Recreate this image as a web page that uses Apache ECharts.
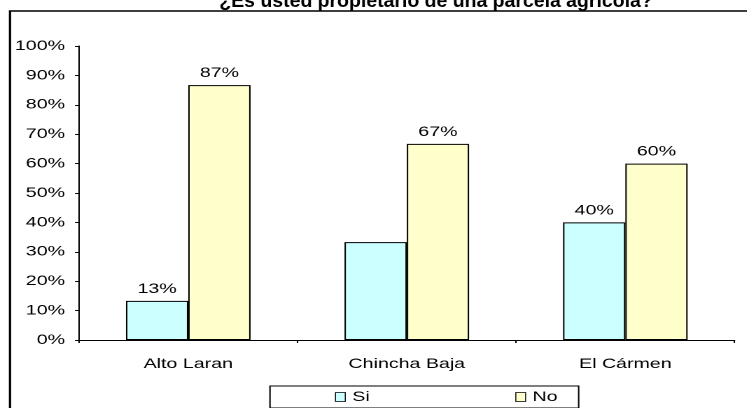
<!DOCTYPE html>
<html>
<head>
<meta charset="utf-8">
<script src="https://cdn.jsdelivr.net/npm/echarts@6/dist/echarts.min.js"></script>
<style>
html,body{margin:0;padding:0;background:#fff;overflow:hidden;}
#wrap{width:747px;height:408px;position:relative;overflow:hidden;}
#chart{position:absolute;left:0;top:0;height:408px;transform-origin:0 0;}
</style>
</head>
<body>
<div id="wrap"><div id="chart"></div></div>
<script>
const titleText = '¿Es usted propietario de una parcela agrícola?';
const categories = ['Alto Laran', 'Chincha Baja', 'El Cármen'];
const seriesNames = ['Si', 'No'];
const siValues = [13.3, 33.3, 40.0];
const noValues = [86.7, 66.7, 60.0];
const siLabels = ['13%', '', '40%'];
const noLabels = ['87%', '67%', '60%'];
const yTicks = [0, 10, 20, 30, 40, 50, 60, 70, 80, 90, 100];

// horizontal stretch of the reference rendering
const SX = 1.4;
const W = 747, H = 408;
const cw = W / SX;
const X = v => v / SX;   // page x -> chart x

const el = document.getElementById('chart');
el.style.width = cw + 'px';
el.style.transform = 'scaleX(' + SX + ')';

const FONT = '"Liberation Sans", Arial, sans-serif';
const FS = 14;
const chart = echarts.init(el, null, {renderer: 'canvas', devicePixelRatio: 2});

function mkLabel(texts) {
  return {
    show: true,
    position: 'top',
    distance: 5,
    fontFamily: FONT,
    fontSize: FS,
    color: '#000',
    formatter: p => texts[p.dataIndex]
  };
}

chart.setOption({
  animation: false,
  backgroundColor: '#fff',
  graphic: [
    {
      type: 'rect',
      shape: {x: X(10), y: 11, width: cw, height: 420},
      style: {fill: null, stroke: '#000', lineWidth: 1.6},
      silent: true,
      z: 0
    },
    {
      type: 'text',
      x: X(436),
      y: 2,
      scaleX: 0.731,
      silent: true,
      style: {
        text: titleText,
        font: 'bold 19px ' + FONT,
        fill: '#000',
        textAlign: 'center',
        textVerticalAlign: 'middle',
        verticalAlign: 'middle'
      }
    }
  ],
  legend: {
    data: seriesNames,
    left: X(270),
    top: 386,
    padding: [4, 15, 4, X(65)],
    itemGap: 104,
    itemWidth: 7,
    itemHeight: 9,
    icon: 'rect',
    itemStyle: {borderWidth: 0.7, borderColor: '#000'},
    borderColor: '#000',
    borderWidth: 1,
    backgroundColor: '#fff',
    textStyle: {fontFamily: FONT, fontSize: FS, color: '#000'}
  },
  grid: {left: X(79), right: X(747 - 734), top: 46, bottom: 68, containLabel: false},
  xAxis: {
    type: 'category',
    data: categories,
    boundaryGap: true,
    axisLine: {show: true, lineStyle: {color: '#000', width: 1}},
    axisTick: {show: true, interval: 0, length: 3, lineStyle: {color: '#000'}},
    axisLabel: {fontFamily: FONT, fontSize: FS, color: '#000', margin: 17, interval: 0},
    splitLine: {show: false}
  },
  yAxis: {
    type: 'value',
    min: yTicks[0],
    max: yTicks[yTicks.length - 1],
    interval: yTicks[1] - yTicks[0],
    axisLine: {show: true, lineStyle: {color: '#000', width: 1}},
    axisTick: {show: true, length: X(4), lineStyle: {color: '#000'}},
    axisLabel: {fontFamily: FONT, fontSize: FS, color: '#000', margin: X(14), formatter: v => v + '%'},
    splitLine: {show: false}
  },
  series: [
    {
      name: seriesNames[0],
      type: 'bar',
      data: siValues,
      barGap: '0%',
      barCategoryGap: '43%',
      itemStyle: {color: '#CCFFFF', borderColor: '#000', borderWidth: 1},
      label: mkLabel(siLabels)
    },
    {
      name: seriesNames[1],
      type: 'bar',
      data: noValues,
      barGap: '0%',
      barCategoryGap: '43%',
      itemStyle: {color: '#FFFFCC', borderColor: '#000', borderWidth: 1},
      label: mkLabel(noLabels)
    }
  ]
});
</script>
</body>
</html>
